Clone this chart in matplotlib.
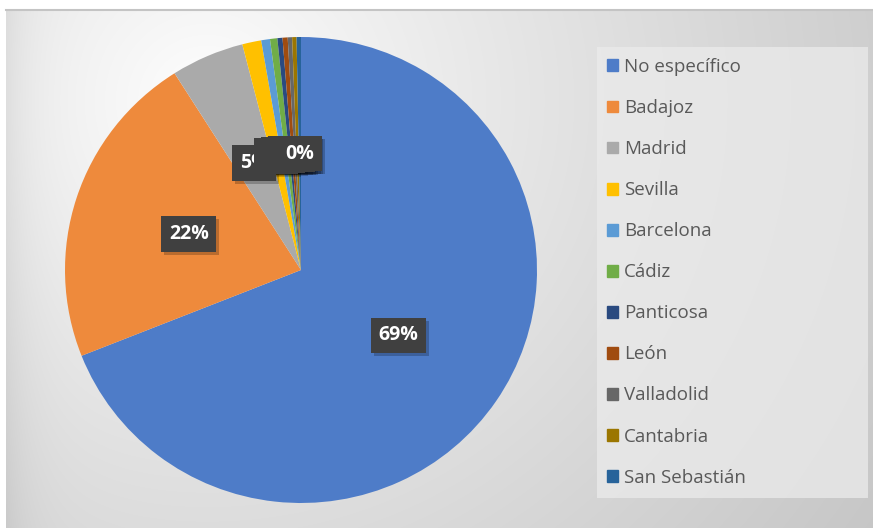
import matplotlib.pyplot as plt
import matplotlib.patches as mpatches
import matplotlib.transforms as mtransforms
import numpy as np

plt.rcParams['font.family'] = ['Open Sans', 'DejaVu Sans']

# datos del gráfico
lugares = ['No específico', 'Badajoz', 'Madrid', 'Sevilla', 'Barcelona', 'Cádiz',
           'Panticosa', 'León', 'Valladolid', 'Cantabria', 'San Sebastián']
porcentajes = [69.0, 22.0, 5.0, 1.3, 0.6, 0.5, 0.35, 0.35, 0.3, 0.3, 0.3]
colores = ['#4e7cc8', '#ee8a3c', '#aaaaaa', '#ffc000', '#5b9bd5', '#70ad47',
           '#2a4a80', '#a04c10', '#676767', '#9b7600', '#27639a']

W, H = 873, 528
fig = plt.figure(figsize=(W / 100, H / 100), dpi=100)
fig.patch.set_facecolor('white')

# fondo con degradado radial
bg = fig.add_axes([6 / W, 0, 1 - 6 / W, (H - 10) / H])
yy, xx = np.mgrid[0:518, 0:867]
d = np.hypot((xx - 200) * 0.95, yy - 90) / 800.0
grad = 1.0 - 0.23 * np.clip(d, 0, 1) ** 0.85
grad = grad - 0.06 * np.exp(-xx / 25.0)  # borde izquierdo algo más oscuro
grad = np.clip(grad, 0, 1)
bg.imshow(np.dstack([grad] * 3), aspect='auto', extent=[0, 1, 0, 1], origin='upper')
bg.set_axis_off()
fig.add_artist(plt.Line2D([6 / W, 1], [(H - 10) / H] * 2, color='#c4c4c4', lw=1.5))

# tarta (ligeramente ovalada como en el original)
cx, cy, rx, ry = 301, 270, 236, 233
ax = fig.add_axes([(cx - rx) / W, (H - cy - ry) / H, 2 * rx / W, 2 * ry / H])

wedges, _, autotexts = ax.pie(porcentajes, colors=colores, startangle=90, counterclock=False,
                              radius=1.0, autopct='%.0f%%', pctdistance=0.5,
                              wedgeprops=dict(linewidth=0),
                              textprops=dict(color='white', fontsize=14, fontweight='bold'))
ax.set_aspect('auto')
ax.set_xlim(-1, 1)
ax.set_ylim(-1, 1)
ax.set_axis_off()

shadow_off = mtransforms.offset_copy(ax.transData, fig=fig, x=3, y=-3, units='dots')
for t in autotexts:
    x, y = t.get_position()
    ax.text(x, y, t.get_text(), transform=shadow_off, ha='center', va='center',
            fontsize=14, fontweight='bold', color='none',
            bbox=dict(boxstyle='square,pad=0.4', fc='black', ec='none', alpha=0.22),
            zorder=t.get_zorder() - 0.1)
    t.set_bbox(dict(boxstyle='square,pad=0.4', fc='#404040', ec='none'))

# leyenda
fig.add_artist(mpatches.Rectangle((597 / W, 1 - 498 / H), 271 / W, 451 / H,
                                  transform=fig.transFigure, fc='#ebebeb', ec='none',
                                  alpha=0.75))
handles = [mpatches.Patch(color=c, label=l) for c, l in zip(colores, lugares)]
leg = fig.legend(handles=handles, loc='upper left',
                 bbox_to_anchor=(607 / W, 1 - 58 / H), frameon=False,
                 fontsize=13.5, labelcolor='#595959', handlelength=0.6, handleheight=0.6,
                 handletextpad=0.3, labelspacing=1.23, borderpad=0, borderaxespad=0)

fig.savefig('out.png', dpi=100)
